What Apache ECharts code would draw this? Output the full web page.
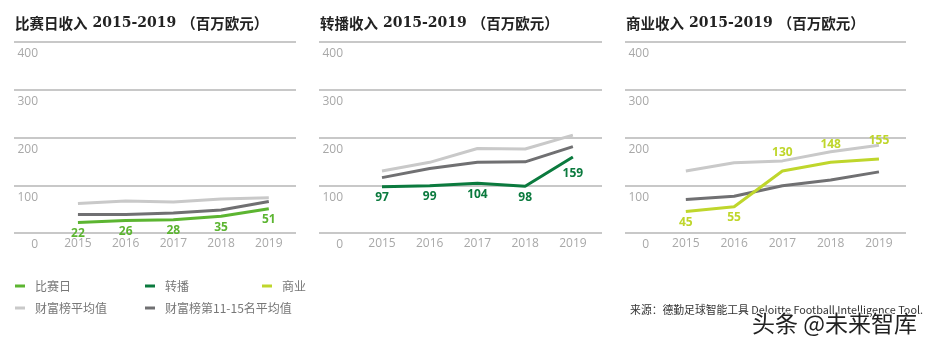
<!DOCTYPE html>
<html>
<head>
<meta charset="utf-8">
<script src="https://cdn.jsdelivr.net/npm/echarts@6/dist/echarts.min.js"></script>
<style>
  html, body { margin: 0; padding: 0; background: #fff; }
  #chart { width: 930px; height: 348px; }
</style>
</head>
<body>
<div id="chart"></div>
<script>
// Revenue 2015-2019 (million EUR): matchday, broadcast, commercial
const years = [2015, 2016, 2017, 2018, 2019];
const yTicks = [0, 100, 200, 300, 400];

const matchday = [22, 26, 28, 35, 51];
const matchdayTopAvg = [62, 67, 65, 71, 74];
const matchdayRank11to15 = [39, 39, 42, 48, 66];

const broadcast = [97, 99, 104, 98, 159];
const broadcastTopAvg = [130, 148, 177, 176, 205];
const broadcastRank11to15 = [116, 135, 148, 149, 181];

const commercial = [45, 55, 130, 148, 155];
const commercialTopAvg = [130, 147, 151, 170, 184];
const commercialRank11to15 = [70, 77, 99, 111, 128];

const NAME_MD = '比赛日', NAME_BC = '转播', NAME_CM = '商业';
const NAME_AVG = '财富榜平均值', NAME_R = '财富榜第11-15名平均值';

const C_MD = '#5cb531', C_BC = '#0b7a3e', C_CM = '#bfd62c';
const C_AVG = '#c9c9c9', C_R = '#707072';

const LATIN = '"Open Sans", "Noto Sans", sans-serif';
const CJK = '"Noto Sans CJK SC", sans-serif';

const panels = [
  { title: '比赛日收入', left: 14, right: 634, xMin: 2013.66, xMax: 2019.57,
    main: matchday, mainName: NAME_MD, mainColor: C_MD, avg: matchdayTopAvg, rank: matchdayRank11to15 },
  { title: '转播收入', left: 319, right: 328, xMin: 2013.68, xMax: 2019.61,
    main: broadcast, mainName: NAME_BC, mainColor: C_BC, avg: broadcastTopAvg, rank: broadcastRank11to15 },
  { title: '商业收入', left: 625, right: 24, xMin: 2013.74, xMax: 2019.56,
    main: commercial, mainName: NAME_CM, mainColor: C_CM, avg: commercialTopAvg, rank: commercialRank11to15 }
];

const pairs = vals => years.map((y, i) => [y, vals[i]]);

const grid = [], xAxis = [], yAxis = [], series = [], title = [];

panels.forEach((p, k) => {
  grid.push({ left: p.left, right: p.right, top: 42, height: 191, containLabel: false });
  title.push({
    left: p.left + 1, top: 14, padding: 0,
    text: '{a|' + p.title + '} {b|2015-2019} {a|（百万欧元）}',
    textStyle: {
      rich: {
        a: { fontFamily: CJK, fontWeight: 'bold', fontSize: 14.5, color: '#222' },
        b: { fontFamily: '"DejaVu Serif", serif', fontWeight: 'bold', fontSize: 14, color: '#222' }
      }
    }
  });
  xAxis.push({
    type: 'value', gridIndex: k, min: p.xMin, max: p.xMax,
    axisLine: { show: false }, axisTick: { show: false }, splitLine: { show: false },
    axisLabel: {
      customValues: years, margin: 5, color: '#a8a8a8', fontSize: 12, fontFamily: LATIN,
      formatter: v => String(v)
    }
  });
  yAxis.push({
    type: 'value', gridIndex: k, min: 0, max: 400, interval: 100,
    axisLine: { show: false }, axisTick: { show: false },
    splitLine: { show: true, lineStyle: { color: '#c8c8c8', width: 2 } },
    axisLabel: {
      customValues: yTicks, margin: -24, align: 'right', verticalAlign: 'top', lineHeight: 24,
      color: '#a8a8a8', fontSize: 12, fontFamily: LATIN
    }
  });

  const base = {
    type: 'line', xAxisIndex: k, yAxisIndex: k, symbol: 'circle', symbolSize: 0.1,
    showSymbol: true, silent: true, animation: false
  };
  series.push(Object.assign({}, base, {
    name: NAME_AVG, data: pairs(p.avg), color: C_AVG,
    lineStyle: { color: C_AVG, width: 3 }, itemStyle: { color: C_AVG }
  }));
  series.push(Object.assign({}, base, {
    name: NAME_R, data: pairs(p.rank), color: C_R,
    lineStyle: { color: C_R, width: 3 }, itemStyle: { color: C_R }
  }));
  series.push(Object.assign({}, base, {
    name: p.mainName, color: p.mainColor,
    lineStyle: { color: p.mainColor, width: 3 }, itemStyle: { color: p.mainColor },
    data: pairs(p.main).map((d, i) => {
      // commercial values from 2017 on sit above the line, all others below;
      // the last point of a steep rise gets extra room under it
      const above = p.mainName === NAME_CM && i >= 2;
      const steep = !above && i === years.length - 1 && p.main[i] - p.main[i - 1] > 30;
      return {
        value: d,
        label: { position: above ? 'top' : 'bottom', distance: above ? 12 : (steep ? 10 : 5) }
      };
    }),
    label: {
      show: true, color: p.mainColor, fontWeight: 'bold', fontSize: 12, fontFamily: LATIN,
      formatter: prm => String(prm.value[1])
    }
  }));
});

const legendBase = {
  orient: 'vertical', icon: 'rect', itemWidth: 10, itemHeight: 3, itemGap: 8, top: 279,
  padding: 0, selectedMode: false,
  textStyle: { fontFamily: CJK, fontSize: 12, color: '#777', lineHeight: 14, padding: [0, 0, 0, 5] }
};
const legend = [
  Object.assign({}, legendBase, { left: 15, data: [NAME_MD, NAME_AVG] }),
  Object.assign({}, legendBase, { left: 145, data: [NAME_BC, NAME_R] }),
  Object.assign({}, legendBase, { left: 262, data: [NAME_CM] })
];

const option = {
  backgroundColor: '#fff',
  animation: false,
  title, grid, xAxis, yAxis, series, legend,
  graphic: [
    {
      type: 'text', right: 7, top: 305,
      style: {
        text: '来源：德勤足球智能工具 Deloitte Football Intelligence Tool.',
        font: '10.8px "Noto Sans CJK SC", sans-serif', fill: '#333'
      }
    },
    {
      type: 'text', right: 12, top: 311,
      style: {
        text: '头条 @未来智库',
        font: '23px "Noto Sans CJK SC", sans-serif', fill: '#222',
        stroke: '#fff', lineWidth: 2
      }
    }
  ]
};

echarts.init(document.getElementById('chart'), null, { renderer: 'canvas' }).setOption(option);
</script>
</body>
</html>
